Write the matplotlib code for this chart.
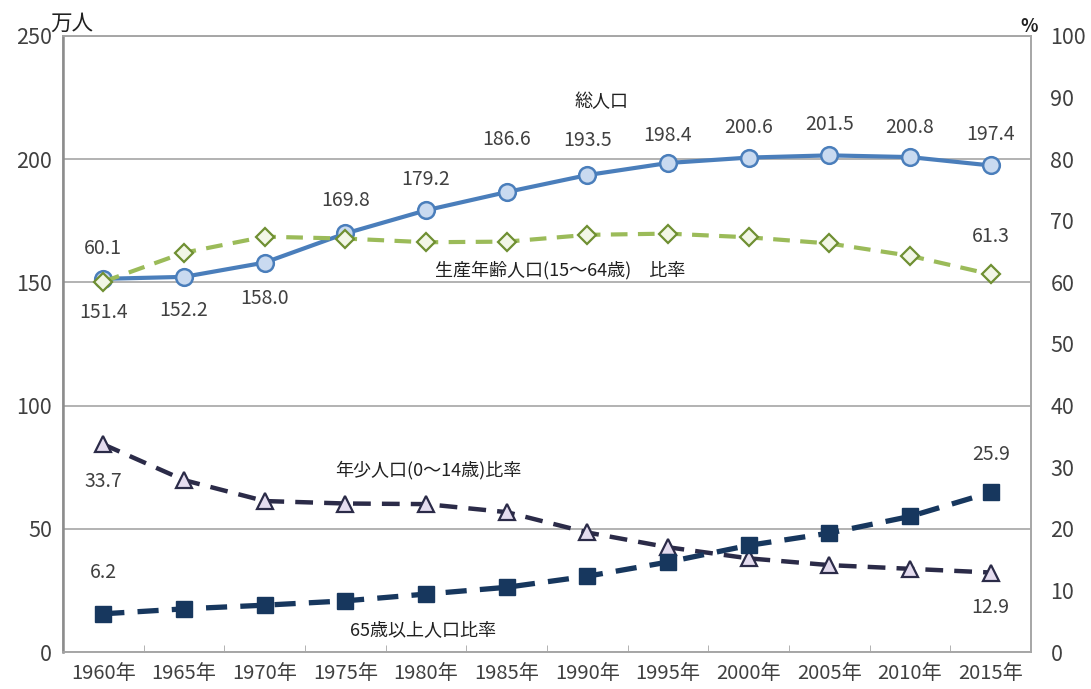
import matplotlib.pyplot as plt
import numpy as np

plt.rcParams['font.family'] = ['Noto Sans CJK JP', 'DejaVu Sans']

years = ['1960年', '1965年', '1970年', '1975年', '1980年', '1985年',
         '1990年', '1995年', '2000年', '2005年', '2010年', '2015年']
total = [151.4, 152.2, 158.0, 169.8, 179.2, 186.6, 193.5, 198.4, 200.6, 201.5, 200.8, 197.4]
working = [60.1, 64.8, 67.4, 67.1, 66.5, 66.6, 67.7, 67.9, 67.3, 66.3, 64.3, 61.3]
young = [33.7, 27.9, 24.5, 24.1, 24.0, 22.7, 19.4, 17.0, 15.2, 14.1, 13.5, 12.9]
elderly = [6.2, 7.0, 7.6, 8.3, 9.4, 10.5, 12.3, 14.6, 17.3, 19.3, 22.0, 25.9]

# label offsets in points (dy) for total population
total_dy = [-24, -24, -26, 24, 22, 38, 25, 20, 22, 22, 21, 22]

x = np.arange(len(years))
txt_col = '#404040'

fig = plt.figure(figsize=(10.91, 6.89), dpi=100)
ax = fig.add_axes([0.0577, 0.0537, 0.8873, 0.8943])
ax2 = ax.twinx()

ax.set_xlim(-0.5, 11.5)
ax.set_ylim(0, 250)
ax2.set_ylim(0, 100)
ax.set_yticks(range(0, 251, 50))
ax2.set_yticks(range(0, 101, 10))
ax.grid(axis='y', color='#a6a6a6', lw=1.2)
ax.set_axisbelow(True)

ax.plot(x, total, color='#4a7ebb', lw=3, marker='o', ms=12,
        mfc='#c9daf0', mec='#4a7ebb', mew=1.8, zorder=3)
ax2.plot(x, working, color='#9bbb59', lw=3, ls=(0, (4, 2.5)), marker='D', ms=9,
         mfc='#f2f6e6', mec='#6f8f32', mew=1.6, zorder=3)
ax2.plot(x, young, color='#2b2b48', lw=3.2, ls=(0, (4, 2.5)), marker='^', ms=12,
         mfc='#e4dcef', mec='#2b2b48', mew=1.6, zorder=3)
ax2.plot(x, elderly, color='#17375e', lw=3.8, ls=(0, (4, 2.5)), marker='s', ms=11,
         mfc='#17375e', mec='#17375e', zorder=4)

for i, v in enumerate(total):
    ax.annotate(f'{v:.1f}', (i, v), xytext=(0, total_dy[i]), textcoords='offset points',
                ha='center', va='center', fontsize=14, color=txt_col)

lab = dict(textcoords='offset points', ha='center', va='center', fontsize=14, color=txt_col)
ax2.annotate(f'{working[0]:.1f}', (0, working[0]), xytext=(0, 24), **lab)
ax2.annotate(f'{working[-1]:.1f}', (11, working[-1]), xytext=(0, 27), **lab)
ax2.annotate(f'{young[0]:.1f}', (0, young[0]), xytext=(0, -27), **lab)
ax2.annotate(f'{young[-1]:.1f}', (11, young[-1]), xytext=(0, -25), **lab)
ax2.annotate(f'{elderly[0]:.1f}', (0, elderly[0]), xytext=(0, 30), **lab)
ax2.annotate(f'{elderly[-1]:.1f}', (11, elderly[-1]), xytext=(0, 27), **lab)

ann = dict(ha='center', va='center', fontsize=13, color='#202020')
ax.text(6.17, 223, '総人口', **ann)
ax.text(5.66, 155, '生産年齢人口(15～64歳)　比率', **ann)
ax.text(4.03, 73.7, '年少人口(0～14歳)比率', **ann)
ax.text(3.96, 8.9, '65歳以上人口比率', **ann)

ax.set_xticks(x)
ax.set_xticklabels(years)
ax.set_xticks(np.arange(0.5, 11, 1), minor=True)
ax.tick_params(axis='x', which='major', length=0, pad=8, labelsize=14.5, labelcolor=txt_col)
ax.tick_params(axis='x', which='minor', length=5, direction='in', color='#a6a6a6')
ax.tick_params(axis='y', length=0, pad=8, labelsize=15.5, labelcolor=txt_col)
ax2.tick_params(axis='y', length=0, pad=14, labelsize=15.5, labelcolor=txt_col)

for a in (ax, ax2):
    for s in a.spines.values():
        s.set_color('#a6a6a6')
        s.set_linewidth(1.2)
ax2.spines['left'].set_color('#8c8c8c')
ax2.spines['left'].set_linewidth(1.8)

fig.text(0.046, 0.966, '万人', ha='left', va='center', fontsize=15.5, color='#202020')
fig.text(0.951, 0.962, '%', ha='right', va='center', fontsize=13, fontweight='bold', color='#202020')

fig.savefig('out.png', dpi=100)
